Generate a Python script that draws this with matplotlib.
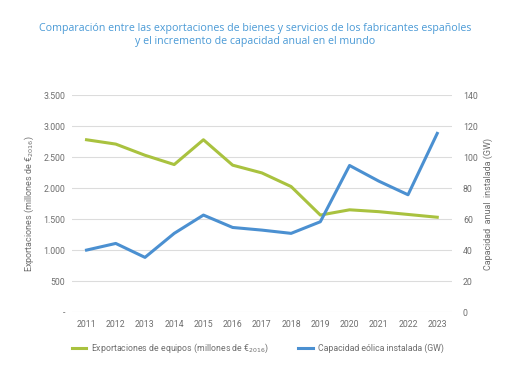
import matplotlib
matplotlib.use("Agg")
import matplotlib.pyplot as plt
from matplotlib.ticker import FuncFormatter

years = ["2011", "2012", "2013", "2014", "2015", "2016", "2017", "2018", "2019", "2020", "2021", "2022", "2023"]
exportaciones = [2780, 2710, 2530, 2380, 2780, 2370, 2245, 2025, 1565, 1650, 1620, 1575, 1530]
capacidad = [40, 44.3, 35.3, 50.8, 62.6, 54.6, 52.9, 50.8, 58.3, 94.6, 84.5, 75.7, 115.3]

green = "#a9c23f"
blue = "#4b90d1"
grey = "#6e6e6e"
plt.rcParams['font.family'] = ['Roboto', 'DejaVu Sans']

fig = plt.figure(figsize=(5.1, 3.82), dpi=100)
ax = fig.add_axes([0.141, 0.183, 0.745, 0.568])
ax2 = ax.twinx()

x = list(range(len(years)))
ax.plot(x, exportaciones, color=green, lw=2.2, label="Exportaciones de equipos (millones de €$_{2016}$)", zorder=3)
ax2.plot(x, capacidad, color=blue, lw=2.2, label="Capacidad eólica instalada (GW)", zorder=3)

ax.set_ylim(0, 3500)
ax.set_yticks(range(0, 3501, 500))
def fmt(v, p):
    if v == 0:
        return "-"
    return f"{int(v):,}".replace(",", ".")
ax.yaxis.set_major_formatter(FuncFormatter(fmt))
ax2.set_ylim(0, 140)
ax2.set_yticks(range(0, 141, 20))
ax.set_xlim(-0.5, 12.5)
ax.set_xticks(x)
ax.set_xticklabels(years)

ax.grid(axis='y', color='#dcdcdc', lw=0.8)
ax.set_axisbelow(True)
for a in (ax, ax2):
    for s in a.spines.values():
        s.set_visible(False)
    a.tick_params(length=0, labelsize=6.3, colors=grey, pad=5)
ax.tick_params(axis='x', pad=6)
ax2.tick_params(axis='y', pad=8)

ax.set_ylabel("Exportaciones (millones de €$_{2016}$)", fontsize=6.5, color=grey, labelpad=5)
ax2.set_ylabel("Capacidad  anual  instalada (GW)", fontsize=6.5, color=grey, labelpad=4)

fig.text(0.5, 0.908, "Comparación entre las exportaciones de bienes y servicios de los fabricantes españoles\ny el incremento de capacidad anual en el mundo",
         ha='center', va='center', fontsize=7.7, color="#4a9ad6", linespacing=1.3,
         family=['Open Sans', 'DejaVu Sans'])

h1, l1 = ax.get_legend_handles_labels()
h2, l2 = ax2.get_legend_handles_labels()
fig.legend(h1 + h2, l1 + l2, loc='center', bbox_to_anchor=(0.505, 0.088), ncol=2, frameon=False,
           fontsize=6.3, labelcolor=grey, handlelength=1.7, handletextpad=0.5, columnspacing=3.4)

fig.savefig("out.png", dpi=100, facecolor="white")
